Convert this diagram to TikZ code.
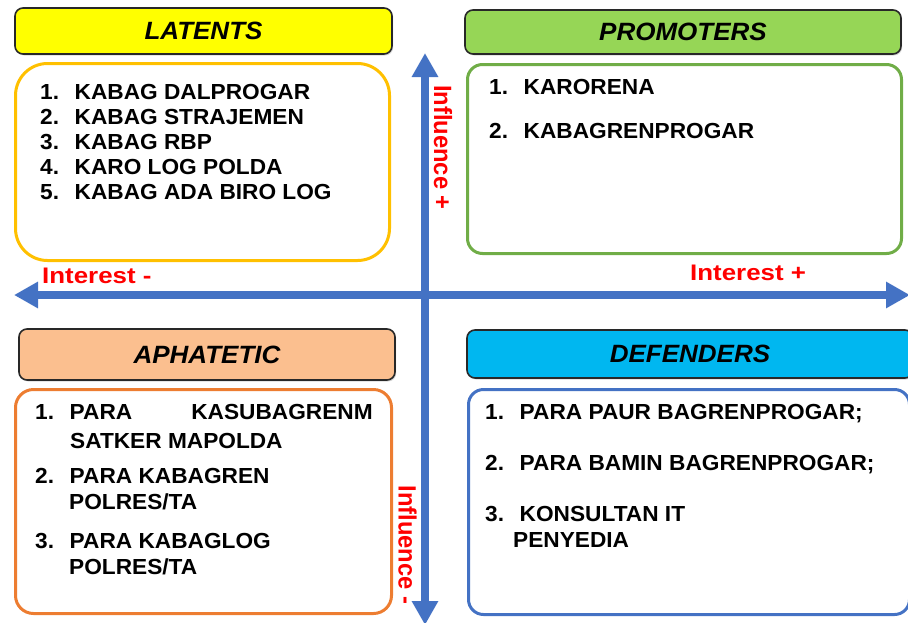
\documentclass[tikz,border=0pt]{standalone}
\usepackage{fontspec}
\setmainfont{Liberation Sans}[FakeStretch=1.04]
\newfontfamily\hlblfont{Liberation Sans}[FakeStretch=1.15]
\newfontfamily\vlblfont{Liberation Sans}[FakeStretch=0.95]
\usetikzlibrary{arrows.meta, shadows}

\definecolor{axisblue}{RGB}{68,114,196}
\definecolor{latyellow}{RGB}{255,255,0}
\definecolor{latborder}{RGB}{255,192,0}
\definecolor{progreen}{RGB}{150,214,86}
\definecolor{proborder}{RGB}{112,173,71}
\definecolor{aphpeach}{RGB}{251,191,143}
\definecolor{aphborder}{RGB}{237,125,49}
\definecolor{defcyan}{RGB}{0,183,240}
\definecolor{hdrline}{RGB}{40,40,40}

\newcommand{\nr}[1]{\makebox[34.5pt][l]{#1}}

\begin{document}
\begin{tikzpicture}[x=1pt, y=-1pt]
\tikzstyle{hdr}=[draw=hdrline, line width=1.6pt, rounded corners=8pt, inner sep=0pt, drop shadow={shadow xshift=1.2pt, shadow yshift=-1.5pt, opacity=0.3}, font=\fontsize{25}{30}\selectfont\bfseries\itshape]
\tikzstyle{panel}=[draw, line width=3pt, fill=white, inner sep=0pt]
\tikzstyle{item}=[anchor=base west, inner sep=0pt, font=\fontsize{21.8}{25}\selectfont\bfseries]
\tikzstyle{hlbl}=[anchor=base west, inner sep=0pt, text=red, font=\hlblfont\fontsize{22.5}{27}\selectfont\bfseries]
\tikzstyle{vlbl}=[rotate=-90, inner sep=0pt, text=red, font=\vlblfont\fontsize{25}{30}\selectfont\bfseries]
\tikzstyle{axis}=[draw=axisblue, line width=8pt, >={Triangle[length=24pt,width=25pt]}, <->]

\useasboundingbox (0,0) rectangle (908,622);

% axes
\coordinate (intneg) at (14,295);
\coordinate (intpos) at (910,295);
\coordinate (infpos) at (425,53);
\coordinate (infneg) at (425,625);
\draw[axis] (intneg) -- (intpos);
\draw[axis] (infneg) -- (infpos);

\node[hlbl] (intminus) at (42,283) {Interest -};
\node[hlbl] (intplus) at (690,280) {Interest +};
\node[vlbl] (infplus) at (443,147.5) {Influence +};
\node[vlbl] (infminus) at (407.5,545) {Influence -};

% headers
\node[hdr, fill=latyellow, minimum width=377pt, minimum height=46pt] (latents) at (203.5,31) {LATENTS};
\node[hdr, fill=progreen, minimum width=436pt, minimum height=44pt] (promoters) at (683,32) {PROMOTERS};
\node[hdr, fill=aphpeach, minimum width=376pt, minimum height=51pt] (aphatetic) at (207,354.5) {APHATETIC};
\node[hdr, fill=defcyan, minimum width=446pt, minimum height=48pt] (defenders) at (690,354) {DEFENDERS};

% panels
\node[panel, draw=latborder, rounded corners=32pt, minimum width=374pt, minimum height=197pt] (latbox) at (202.5,162) {};
\node[panel, draw=proborder, rounded corners=15pt, minimum width=434pt, minimum height=189pt] (probox) at (684.5,159) {};
\node[panel, draw=aphborder, rounded corners=18pt, minimum width=376pt, minimum height=224pt] (aphbox) at (203.5,501.5) {};
\node[panel, draw=axisblue, rounded corners=15pt, minimum width=441pt, minimum height=225pt] (defbox) at (689,502) {};

% latents
\node[item] (lat1) at (40,99) {\nr{1.}KABAG DALPROGAR};
\node[item] (lat2) at (40,124.5) {\nr{2.}KABAG STRAJEMEN};
\node[item] (lat3) at (40,149.5) {\nr{3.}KABAG RBP};
\node[item] (lat4) at (40,174.5) {\nr{4.}KARO LOG POLDA};
\node[item] (lat5) at (40,199.5) {\nr{5.}KABAG ADA BIRO LOG};

% promoters
\node[item] (pro1) at (489,94) {\nr{1.}KARORENA};
\node[item] (pro2) at (489,138) {\nr{2.}KABAGRENPROGAR};

% aphatetic
\node[item] (aph1) at (35,419) {\nr{1.}\makebox[303pt][s]{PARA\hfill KASUBAGRENM}};
\node[item] (aph1b) at (70,448) {SATKER MAPOLDA};
\node[item] (aph2) at (35,483) {\nr{2.}PARA KABAGREN};
\node[item] (aph2b) at (69,509) {POLRES/TA};
\node[item] (aph3) at (35,548) {\nr{3.}PARA KABAGLOG};
\node[item] (aph3b) at (69,574) {POLRES/TA};

% defenders
\node[item] (def1) at (485,419) {\nr{1.}PARA PAUR BAGRENPROGAR;};
\node[item] (def2) at (485,470) {\nr{2.}PARA BAMIN BAGRENPROGAR;};
\node[item] (def3) at (485,521) {\nr{3.}KONSULTAN IT};
\node[item] (def3b) at (513,547) {PENYEDIA};

\end{tikzpicture}
\end{document}
